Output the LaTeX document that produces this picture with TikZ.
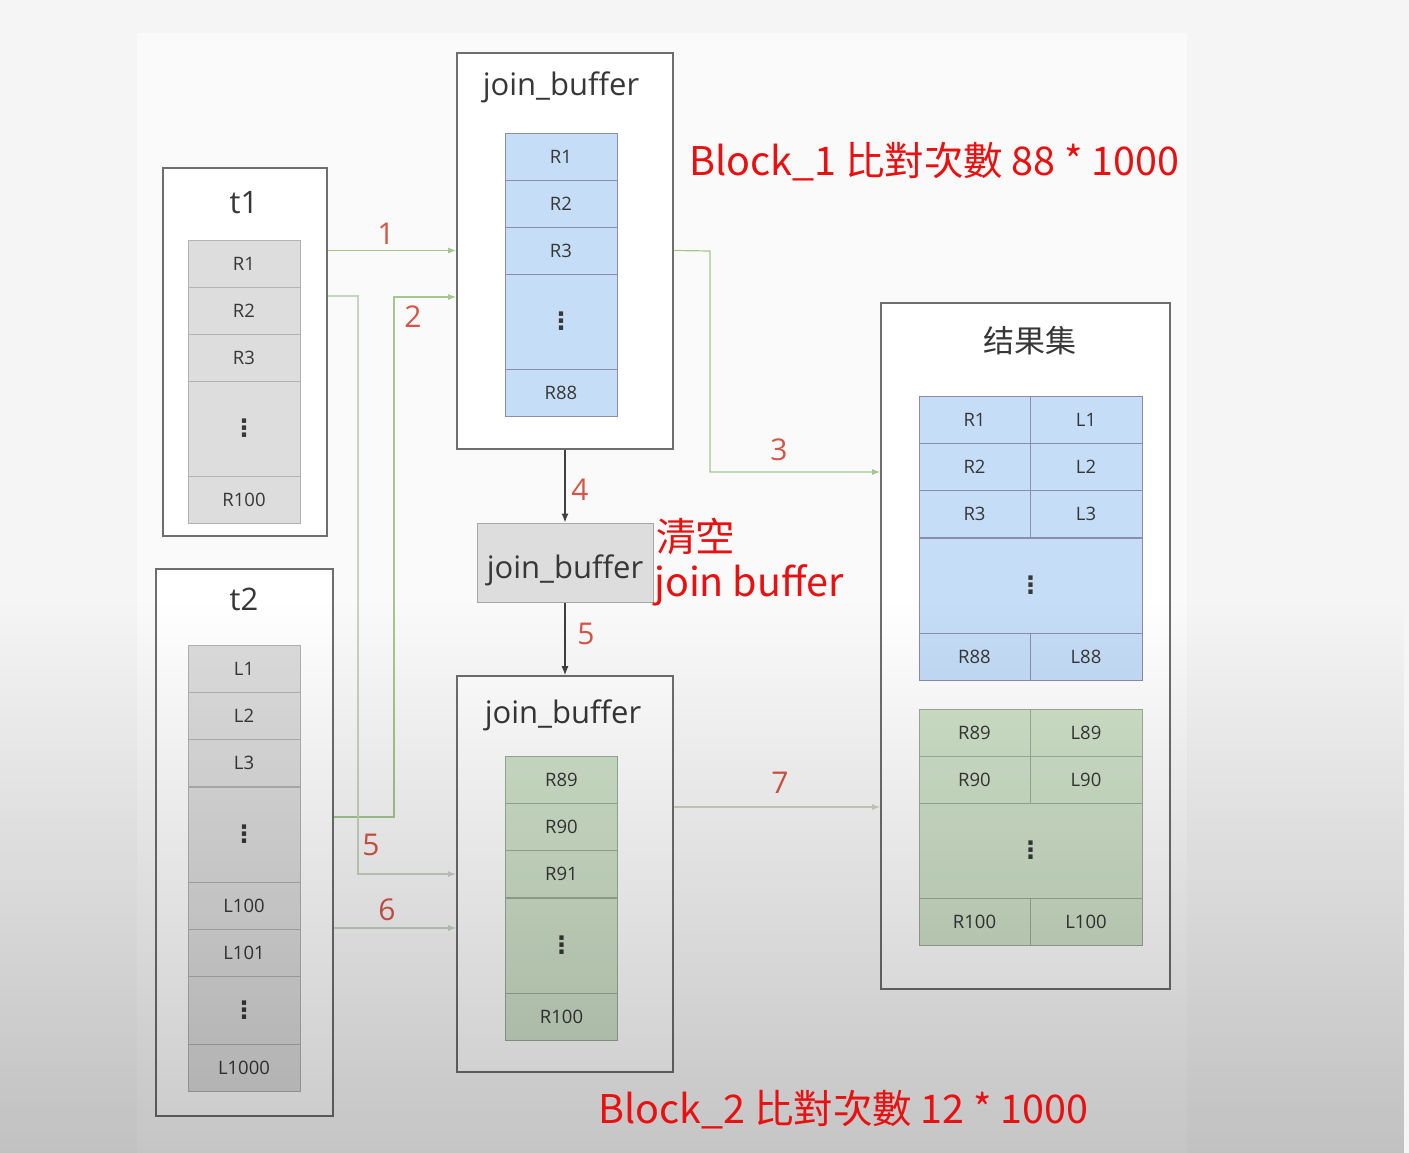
\documentclass[tikz,border=0pt]{standalone}
\usepackage{fontspec}
\setmainfont{Open Sans}
\newfontfamily\cjk{Noto Sans CJK SC}
\newfontfamily\cjktc{Noto Sans CJK TC}
\newfontfamily\symb{DejaVu Sans}
\usepackage{tikz}
\usetikzlibrary{positioning,arrows.meta,fadings}
\usepackage{xcolor}

\definecolor{pagebg}{RGB}{245,245,245}
\definecolor{panelbg}{RGB}{250,250,250}
\definecolor{boxline}{RGB}{110,110,110}
\definecolor{cellgray}{RGB}{221,221,221}
\definecolor{cellblue}{RGB}{197,221,247}
\definecolor{cellgreen}{RGB}{208,226,202}
\definecolor{flowgreen}{RGB}{165,198,145}
\definecolor{flowpale}{RGB}{200,212,195}
\definecolor{steplab}{RGB}{212,86,72}
\definecolor{notered}{RGB}{232,16,16}
\definecolor{ink}{RGB}{55,55,55}

\newcommand{\rowdots}{{\symb\bfseries\fontsize{24}{24}\selectfont ⋮}}

\tikzfading[name=shadedown, top color=transparent!100, bottom color=transparent!0]

\begin{document}
\begin{tikzpicture}[x=1pt,y=-1pt,
          every node/.style={font=\fontsize{18.5}{22}\selectfont,text=ink},
          tblbox/.style={draw=boxline,line width=1.6pt,fill=white,inner sep=0pt},
          boxtitle/.style={font=\fontsize{31}{36}\selectfont},
          cell/.style={line width=0.8pt,minimum width=112pt,minimum height=47pt,inner sep=0pt},
          gcell/.style={cell,draw=black!30,fill=cellgray},
          bcell/.style={cell,draw=blue!30!black!45,fill=cellblue},
          ecell/.style={cell,draw=green!20!black!40,fill=cellgreen},
          tall/.style={minimum height=95pt},
          steplabel/.style={font=\fontsize{30}{34}\selectfont,text=steplab},
          note/.style={font=\cjktc\fontsize{39.5}{46}\selectfont,text=notered,anchor=west,inner sep=0pt},
          flow/.style={draw=flowgreen,line width=1.2pt,-{Latex[length=8pt,width=6pt]}},
          flowpale/.style={flow,draw=flowpale},
          pass/.style={draw=black!75,line width=1.2pt,-{Latex[length=9pt,width=7pt]}},
        ]
        \useasboundingbox (0,0) rectangle (1409,1153);
        \fill[pagebg] (0,0) rectangle (1409,1153);
        \fill[panelbg] (137,33) rectangle (1187,1153);

        % t1
        \node[tblbox,minimum width=164pt,minimum height=368pt] (t1) at (245,352) {};
        \node[boxtitle] (t1title) at (244,203) {t1};
        \foreach \lab [count=\i] in {R1,R2,R3} {
          \node[gcell] (t1r\i) at (244,{240+47*\i-23.5}) {\lab};
        }
        \node[gcell,tall] (t1dots) at (244,428.5) {\rowdots};
        \node[gcell] (t1r100) at (244,499.5) {R100};

        % t2
        \node[tblbox,minimum width=177pt,minimum height=547pt] (t2) at (244.5,842.5) {};
        \node[boxtitle] (t2title) at (244,599) {t2};
        \foreach \lab [count=\i] in {L1,L2,L3} {
          \node[gcell] (t2r\i) at (244,{645+47*\i-23.5}) {\lab};
        }
        \node[gcell,tall] (t2dots) at (244,834.5) {\rowdots};
        \node[gcell] (t2r100) at (244,905.5) {L100};
        \node[gcell] (t2r101) at (244,952.5) {L101};
        \node[gcell,minimum height=68pt] (t2more) at (244,1010) {\rowdots};
        \node[gcell] (t2r1000) at (244,1067.5) {L1000};

        % join_buffer, first block
        \node[tblbox,minimum width=216pt,minimum height=396pt] (jbtop) at (565,251) {};
        \node[boxtitle] (jbtoptitle) at (561,87) {join\_buffer};
        \foreach \lab [count=\i] in {R1,R2,R3} {
          \node[bcell] (jt\i) at (561,{133+47*\i-23.5}) {\lab};
        }
        \node[bcell,tall] (jtdots) at (561,321.5) {\rowdots};
        \node[bcell] (jt88) at (561,392.5) {R88};

        % cleared join_buffer
        \node[draw=black!35,fill=cellgray,line width=1pt,minimum width=176pt,minimum height=79pt,
              text height=32pt,text depth=0pt,font=\fontsize{31}{36}\selectfont] (jbmid) at (565,562.5) {join\_buffer};

        % join_buffer, second block
        \node[tblbox,minimum width=216pt,minimum height=396pt] (jbbot) at (565,874) {};
        \node[boxtitle] (jbbottitle) at (563,715) {join\_buffer};
        \foreach \lab [count=\i] in {R89,R90,R91} {
          \node[ecell] (jb\i) at (561.5,{756+47*\i-23.5}) {\lab};
        }
        \node[ecell,tall] (jbdots) at (561.5,945.5) {\rowdots};
        \node[ecell] (jb100) at (561.5,1016.5) {R100};

        % result set
        \node[tblbox,minimum width=289pt,minimum height=686pt] (res) at (1025.5,646) {};
        \node[boxtitle,font=\cjk\fontsize{31}{36}\selectfont] (restitle) at (1030,341) {结果集};
        \foreach \l/\r [count=\i] in {R1/L1,R2/L2,R3/L3} {
          \node[bcell,minimum width=111pt] (rl\i) at (974.5,{396+47*\i-23.5}) {\l};
          \node[bcell,minimum width=112pt] (rr\i) at (1086,{396+47*\i-23.5}) {\r};
        }
        \node[bcell,tall,minimum width=223pt] (rdots) at (1030.5,585.5) {\rowdots};
        \node[bcell,minimum width=111pt] (rl88) at (974.5,656.5) {R88};
        \node[bcell,minimum width=112pt] (rr88) at (1086,656.5) {L88};
        \foreach \l/\r [count=\i] in {R89/L89,R90/L90} {
          \node[ecell,minimum width=111pt] (gl\i) at (974.5,{709+47*\i-23.5}) {\l};
          \node[ecell,minimum width=112pt] (gr\i) at (1086,{709+47*\i-23.5}) {\r};
        }
        \node[ecell,tall,minimum width=223pt] (gdots) at (1030.5,850.5) {\rowdots};
        \node[ecell,minimum width=111pt] (gl100) at (974.5,921.5) {R100};
        \node[ecell,minimum width=112pt] (gr100) at (1086,921.5) {L100};

        % steps
        \draw[flow] (t1.east |- jt3) -- (jbtop.west |- jt3);
        \node[steplabel] (s1) at (386,234) {1};
        \draw[flow] (t2.east |- 0,817) -- (394,817) -- (394,297) -- (jbtop.west |- 0,297);
        \node[steplabel] (s2) at (413,317) {2};
        \draw[flow] (jbtop.east |- jt3) -- (710,251) -- (710,472) -- (res.west |- 0,472);
        \node[steplabel] (s3) at (779,450) {3};
        \draw[pass] (jbtop.south) -- (jbmid.north);
        \node[steplabel] (s4) at (580,490) {4};
        \draw[pass] (jbmid.south) -- (jbbot.north);
        \node[steplabel] (s5b) at (586,634) {5};
        \draw[flowpale] (t1.east |- 0,296) -- (358,296) -- (358,874) -- (jbbot.west |- 0,874);
        \node[steplabel] (s5) at (371,845) {5};
        \draw[flowpale] (t2.east |- 0,928) -- (jbbot.west |- 0,928);
        \node[steplabel] (s6) at (387,910) {6};
        \draw[flowpale] (jbbot.east |- 0,807) -- (res.west |- 0,807);
        \node[steplabel] (s7) at (780,783) {7};

        % darker lower part, as in the screenshot
        \fill[black,fill opacity=0.21,path fading=shadedown] (0,600) rectangle (1409,1153);

        % notes
        \node[note] (blk1) at (689,162) {Block\_1 比對次數 88 * 1000};
        \node[note] (clr1) at (656,537) {清空};
        \node[note] (clr2) at (654,585) {join buffer};
        \node[note] (blk2) at (598,1110) {Block\_2 比對次數 12 * 1000};
      \end{tikzpicture}
\end{document}
